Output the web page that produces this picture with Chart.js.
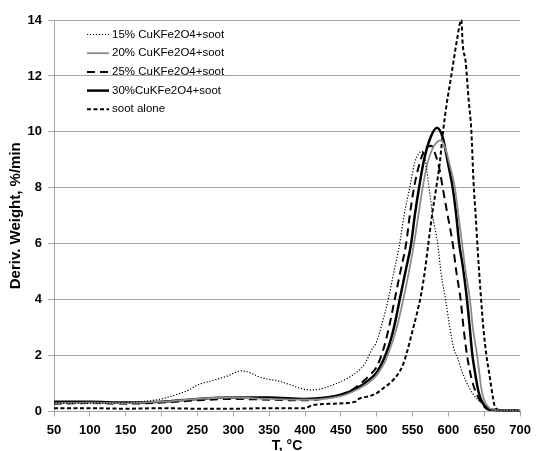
<!DOCTYPE html>
<html>
<head>
<meta charset="utf-8">
<script src="https://cdn.jsdelivr.net/npm/chart.js@4.4.1/dist/chart.umd.min.js"></script>
<style>
  html, body { margin: 0; padding: 0; background: #fff; }
  #c { display: block; }
</style>
</head>
<body>
<canvas id="c" width="537" height="451"></canvas>
<script>
// DTG curves of soot with different CuKFe2O4 loadings
var labels = ["15% CuKFe2O4+soot", "20% CuKFe2O4+soot", "25% CuKFe2O4+soot", "30%CuKFe2O4+soot", "soot alone"];

var t15 = [50, 100, 150, 200, 220, 238, 250, 270, 290, 311, 320, 335, 350, 362, 380, 395, 407, 420, 444, 460, 472, 483, 493, 500, 508, 516, 524, 532, 538, 546, 553, 558, 563, 567, 570, 574, 578, 585, 590, 596, 602, 608, 613, 620, 628, 635, 642, 648, 655, 665, 680, 700];
var w15 = [0.3, 0.3, 0.32, 0.45, 0.6, 0.77, 0.95, 1.1, 1.25, 1.45, 1.42, 1.25, 1.15, 1.1, 0.95, 0.82, 0.77, 0.8, 1.0, 1.2, 1.4, 1.7, 2.2, 2.5, 3.2, 4.0, 5.0, 6.0, 7.0, 8.0, 8.9, 9.2, 9.3, 9.1, 8.6, 7.8, 7.0, 6.0, 4.9, 4.0, 3.0, 2.2, 1.9, 1.35, 0.9, 0.6, 0.4, 0.25, 0.1, 0.05, 0.04, 0.03];

var t20 = [50, 100, 150, 200, 250, 300, 350, 400, 450, 470, 490, 500, 510, 518, 528, 537, 545, 552, 558, 564, 571, 580, 590, 597, 603, 609, 614, 619, 624, 630, 634, 640, 643, 646, 650, 657, 665, 680, 700];
var w20 = [0.3, 0.32, 0.3, 0.35, 0.45, 0.5, 0.45, 0.42, 0.55, 0.75, 1.05, 1.3, 1.7, 2.2, 3.0, 4.0, 5.0, 6.0, 7.0, 8.0, 8.9, 9.5, 9.7, 9.3, 8.7, 8.0, 7.0, 6.0, 5.0, 4.0, 3.0, 2.0, 1.4, 0.8, 0.4, 0.12, 0.05, 0.04, 0.03];

var t25 = [50, 100, 150, 200, 250, 300, 350, 400, 450, 470, 490, 500, 509, 517, 525, 533, 541, 546, 552, 560, 568, 576, 583, 588, 592, 599, 606, 611, 617, 621, 626, 632, 638, 645, 652, 660, 680, 700];
var w25 = [0.28, 0.3, 0.28, 0.32, 0.4, 0.45, 0.42, 0.4, 0.6, 0.85, 1.3, 1.6, 2.2, 3.0, 4.0, 5.0, 6.0, 7.0, 8.0, 8.9, 9.4, 9.5, 9.1, 8.6, 8.0, 7.0, 6.0, 5.0, 4.0, 3.0, 2.0, 1.2, 0.7, 0.35, 0.12, 0.05, 0.04, 0.03];

var t30 = [50, 100, 150, 200, 250, 300, 350, 400, 430, 450, 470, 490, 500, 515, 524, 532, 540, 548, 553, 559, 566, 575, 584, 592, 600, 606, 611, 615, 620, 625, 629, 633, 637, 642, 647, 655, 665, 680, 700];
var w30 = [0.35, 0.35, 0.32, 0.35, 0.45, 0.5, 0.5, 0.45, 0.5, 0.6, 0.8, 1.15, 1.4, 2.2, 3.0, 4.0, 5.0, 6.0, 7.0, 8.0, 9.0, 9.8, 10.15, 9.8, 8.8, 8.0, 7.0, 6.0, 5.2, 4.2, 3.2, 2.1, 1.4, 0.7, 0.35, 0.1, 0.05, 0.04, 0.03];

var tSoot = [50, 100, 150, 200, 250, 300, 350, 400, 410, 440, 470, 475, 490, 500, 510, 520, 530, 537, 543, 550, 556, 562, 567, 572, 577, 583, 588, 592, 597, 602, 607, 612, 618, 620, 624, 628, 632, 635, 638, 641, 645, 649, 653, 656, 659, 662, 665, 670, 685, 700];
var wSoot = [0.12, 0.12, 0.1, 0.12, 0.1, 0.1, 0.12, 0.12, 0.22, 0.28, 0.35, 0.45, 0.55, 0.66, 0.85, 1.05, 1.35, 1.7, 2.2, 2.9, 3.5, 4.2, 5.0, 6.0, 7.0, 8.0, 8.9, 9.9, 10.9, 11.7, 12.5, 13.3, 14.0, 13.1, 12.5, 11.2, 10.0, 8.2, 7.0, 5.7, 4.2, 2.9, 2.0, 1.5, 1.0, 0.5, 0.15, 0.06, 0.04, 0.03];

(function () {
  var font = "'Liberation Sans', Arial, sans-serif";
  var grid = "#a6a6a6";

  var pts = function (t, w) {
    return t.map(function (x, i) { return { x: x, y: w[i] }; });
  };
  var line = function (i, t, w, color, width, dash) {
    return {
      label: labels[i],
      data: pts(t, w),
      borderColor: color,
      borderWidth: width,
      borderDash: dash,
      pointRadius: 0,
      fill: false,
      cubicInterpolationMode: "monotone",
      clip: 6,
    };
  };

  // legend sits inside the plot, top-left, like the original
  var insideLegend = {
    id: "insideLegend",
    afterDatasetsDraw: function (chart) {
      var ctx = chart.ctx;
      ctx.save();
      ctx.font = "11.5px " + font;
      ctx.textBaseline = "middle";
      chart.data.datasets.forEach(function (ds, i) {
        var y = 34.5 + i * 18.7;
        ctx.strokeStyle = ds.borderColor;
        ctx.lineWidth = ds.borderWidth;
        ctx.setLineDash(ds.borderDash || []);
        ctx.beginPath();
        ctx.moveTo(87, y);
        ctx.lineTo(109, y);
        ctx.stroke();
        ctx.setLineDash([]);
        ctx.fillStyle = "#000";
        ctx.fillText(ds.label, 112, y);
      });
      ctx.restore();
    },
  };

  new Chart(document.getElementById("c"), {
    type: "line",
    data: {
      datasets: [
        line(0, t15, w15, "#000", 1.2, [1.2, 1.8]),
        line(1, t20, w20, "#8c8c8c", 1.8, []),
        line(2, t25, w25, "#000", 2, [8, 5]),
        line(3, t30, w30, "#000", 2.5, []),
        line(4, tSoot, wSoot, "#000", 2, [4, 2.5]),
      ],
    },
    options: {
      responsive: false,
      animation: false,
      layout: { padding: { top: 20, right: 12, left: 0, bottom: 0 } },
      plugins: { legend: { display: false }, tooltip: { enabled: false } },
      scales: {
        x: {
          type: "linear",
          min: 50,
          max: 700,
          afterFit: function (s) { s.height = 39.5; },
          border: { color: grid },
          grid: { drawOnChartArea: false, drawTicks: true, tickLength: 5, color: grid },
          ticks: { stepSize: 50, color: "#000", padding: 6, maxRotation: 0, font: { family: font, size: 13, weight: "bold" } },
          title: { display: true, text: "T, °C", color: "#000", padding: { top: 0, bottom: -2 }, font: { family: font, size: 14, weight: "bold", lineHeight: 1 } },
        },
        y: {
          min: 0,
          max: 14,
          afterFit: function (s) { s.width = 54; },
          border: { color: grid },
          grid: { color: grid, tickLength: 6 },
          ticks: { stepSize: 2, color: "#000", padding: 6, font: { family: font, size: 13, weight: "bold" } },
          title: { display: true, text: "Deriv. Weight, %/min", color: "#000", padding: { top: 7, bottom: 0 }, font: { family: font, size: 15, weight: "bold" } },
        },
      },
    },
    plugins: [insideLegend],
  });
})();
</script>
</body>
</html>
